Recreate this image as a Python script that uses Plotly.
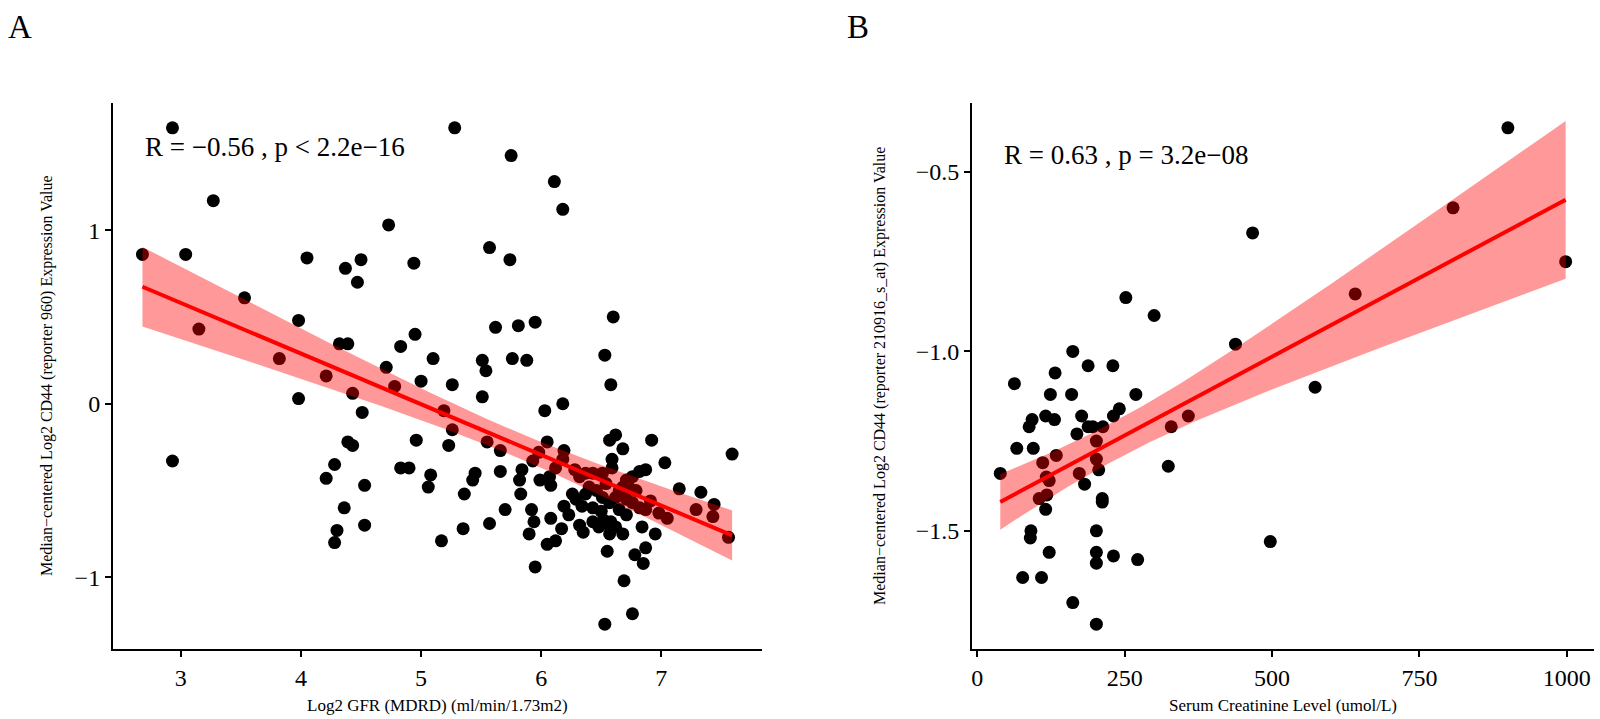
import numpy as np
import plotly.graph_objects as go

# Panel A: log2 GFR vs CD44 (reporter 960)
gfr_log2 = [2.93, 3.27, 2.68, 3.04, 4.73, 4.05, 4.37, 4.50, 4.47, 4.94, 3.53, 3.15, 3.98, 4.32, 4.39,
            4.95, 4.83, 3.82, 4.21, 4.71, 5.00, 4.78, 4.43, 3.98, 5.10,
            2.93, 4.51, 4.39, 4.43, 4.96, 4.28, 4.21, 4.83, 4.90, 4.53, 5.08, 5.06, 4.36, 4.30, 4.28, 4.53,
            5.28, 5.75, 6.11, 6.18, 5.57, 5.74, 6.60, 5.62, 5.81, 5.95, 5.51, 5.54, 5.76, 5.88, 6.53, 5.26,
            6.58, 5.51, 6.18,
            6.03, 5.19, 5.26, 5.23, 5.55, 5.66, 6.05, 5.98, 6.62, 6.57, 6.68, 6.92, 6.19, 7.59,
            5.45, 5.43, 5.66, 5.84, 5.82, 5.93, 5.99, 6.08, 6.07, 6.18, 6.12, 6.28, 6.32, 6.37, 6.43, 6.51,
            6.59, 6.59, 6.76, 6.82, 6.87, 7.03, 7.15, 7.33, 7.44, 7.29, 7.43, 7.05, 6.98, 6.91, 6.87, 5.36,
            5.83, 5.70, 5.57, 5.35, 5.17, 5.92, 5.94, 5.90, 6.08, 6.19, 6.23, 6.17, 6.05, 6.12, 5.95, 6.32,
            6.35, 6.48, 6.54, 6.57, 6.62, 6.68, 6.55, 6.84, 6.95, 6.87, 6.78, 6.85, 6.69, 6.76, 6.53,
            6.65, 6.73, 6.79, 6.71, 6.76, 6.82, 6.65, 6.71, 6.57, 6.62, 6.51, 6.46, 6.37, 6.29, 6.34, 6.43,
            6.50, 6.26, 6.40, 6.54, 6.68, 6.71, 6.52, 6.58, 6.43, 7.56]
cd44_a = [1.59, 1.17, 0.86, 0.86, 1.03, 0.84, 0.78, 0.83, 0.70, 0.81, 0.61, 0.43, 0.48, 0.345, 0.345,
          0.40, 0.33, 0.26, 0.16, 0.21, 0.13, 0.10, 0.06, 0.03, 0.26,
          -0.33, -0.05, -0.22, -0.24, -0.21, -0.35, -0.43, -0.37, -0.37, -0.47, -0.41, -0.48, -0.60, -0.73, -0.80, -0.70,
          1.59, 1.43, 1.28, 1.12, 0.90, 0.83, 0.50, 0.44, 0.45, 0.47, 0.25, 0.19, 0.26, 0.25, 0.28, 0.11,
          0.11, 0.04, 0.00,
          -0.04, -0.04, -0.15, -0.24, -0.22, -0.27, -0.22, -0.28, -0.18, -0.21, -0.26, -0.21, -0.27, -0.29,
          -0.40, -0.44, -0.39, -0.38, -0.44, -0.33, -0.44, -0.47, -0.42, -0.32, -0.37, -0.38, -0.42, -0.40, -0.40, -0.40,
          -0.32, -0.37, -0.42, -0.39, -0.38, -0.34, -0.49, -0.51, -0.58, -0.61, -0.65, -0.66, -0.63, -0.56, -0.61, -0.52,
          -0.52, -0.61, -0.69, -0.72, -0.79, -0.61, -0.68, -0.75, -0.66, -0.59, -0.64, -0.72, -0.81, -0.79, -0.94, -0.70,
          -0.74, -0.71, -0.69, -0.75, -0.71, -0.75, -0.85, -0.71, -0.75, -0.83, -0.87, -0.92, -1.02, -1.21, -1.27,
          -0.50, -0.48, -0.50, -0.55, -0.57, -0.60, -0.61, -0.64, -0.57, -0.54, -0.54, -0.50, -0.52, -0.55, -0.59, -0.60,
          -0.62, -0.52, -0.48, -0.46, -0.48, -0.44, -0.67, -0.68, -0.68, -0.77]

# Panel B: serum creatinine vs CD44 (reporter 210916_s_at)
creatinine = [300, 162, 438, 188, 230, 132, 63, 124, 160, 269, 241, 231, 177, 93, 88, 116, 131, 188, 196, 213,
              358, 329, 169, 67, 95, 202, 134, 111, 202, 206, 39, 117, 122, 173, 324, 182, 105, 118, 116, 212,
              212, 91, 90, 202, 122, 202, 202, 231, 272, 77, 109, 162, 202, 900, 807, 467, 998, 641, 573, 497, 252]
cd44_b = [-0.90, -1.00, -0.98, -1.04, -1.04, -1.06, -1.09, -1.12, -1.12, -1.12, -1.16, -1.18, -1.18, -1.19, -1.21,
          -1.18, -1.19, -1.21, -1.21, -1.21, -1.18, -1.21, -1.23, -1.27, -1.27, -1.25, -1.29, -1.31, -1.30, -1.33,
          -1.34, -1.35, -1.36, -1.34, -1.32, -1.37, -1.41, -1.40, -1.44, -1.41, -1.42, -1.50, -1.52, -1.50, -1.56,
          -1.56, -1.59, -1.57, -1.58, -1.63, -1.63, -1.70, -1.76, -0.377, -0.60, -0.67, -0.75, -0.84, -1.10, -1.53, -0.85]

label_a = "R = \u22120.56 , p < 2.2e\u221216"
label_b = "R = 0.63 , p = 3.2e\u221208"
xtitle_a = "Log2 GFR (MDRD) (ml/min/1.73m2)"
xtitle_b = "Serum Creatinine Level (umol/L)"
ytitle_a = "Median\u2212centered Log2 CD44 (reporter 960) Expression Value"
ytitle_b = "Median\u2212centered Log2 CD44 (reporter 210916_s_at) Expression Value"

FONT = "Liberation Serif"


def lm_band(x, y, n_grid=80):
    # linear fit with 95% confidence band, like geom_smooth(method="lm")
    x = np.asarray(x, float)
    y = np.asarray(y, float)
    n = len(x)
    b1, b0 = np.polyfit(x, y, 1)
    resid = y - (b0 + b1 * x)
    s = np.sqrt(np.sum(resid ** 2) / (n - 2))
    sxx = np.sum((x - x.mean()) ** 2)
    t = 1.96 + 2.4 / (n - 2)
    xg = np.linspace(x.min(), x.max(), n_grid)
    fit = b0 + b1 * xg
    se = s * np.sqrt(1 / n + (xg - x.mean()) ** 2 / sxx)
    return xg, fit, fit - t * se, fit + t * se


def padded(v):
    lo, hi = min(v), max(v)
    pad = (hi - lo) * 0.05
    return [lo - pad, hi + pad]


fig = go.Figure()

panels = [
    (gfr_log2, cd44_a, "x", "y"),
    (creatinine, cd44_b, "x2", "y2"),
]
for xs, ys, xa, ya in panels:
    fig.add_trace(go.Scatter(x=xs, y=ys, mode="markers", xaxis=xa, yaxis=ya,
                             marker=dict(color="black", size=13), showlegend=False, hoverinfo="x+y"))
    xg, fit, lo, hi = lm_band(xs, ys)
    fig.add_trace(go.Scatter(x=list(xg) + list(xg[::-1]), y=list(hi) + list(lo[::-1]),
                             fill="toself", fillcolor="rgba(255,0,0,0.4)", line=dict(width=0),
                             mode="lines", xaxis=xa, yaxis=ya, showlegend=False, hoverinfo="skip"))
    fig.add_trace(go.Scatter(x=xg, y=fit, mode="lines", line=dict(color="red", width=4),
                             xaxis=xa, yaxis=ya, showlegend=False, hoverinfo="skip"))

axis_style = dict(showline=True, linecolor="black", linewidth=2, ticks="outside", ticklen=6,
                  tickwidth=1.5, tickcolor="black", showgrid=False, zeroline=False,
                  tickfont=dict(family=FONT, size=24, color="black"))

ydom = [0.0974, 0.8568]
fig.update_layout(
    width=1600, height=719,
    margin=dict(l=0, r=0, t=0, b=0),
    paper_bgcolor="white", plot_bgcolor="white",
    font=dict(family=FONT, color="black"),
    xaxis=dict(domain=[0.0706, 0.476], range=padded(gfr_log2), tickvals=[3, 4, 5, 6, 7], anchor="y", **axis_style),
    yaxis=dict(domain=ydom, range=padded(cd44_a), tickvals=[-1, 0, 1], anchor="x", **axis_style),
    xaxis2=dict(domain=[0.6075, 0.9962], range=padded(creatinine), tickvals=[0, 250, 500, 750, 1000],
                anchor="y2", **axis_style),
    yaxis2=dict(domain=ydom, range=padded(cd44_b), tickvals=[-1.5, -1.0, -0.5], tickformat=".1f",
                anchor="x2", **axis_style),
)

ann = [
    dict(text="A", x=6 / 1600, y=1 - 27 / 719, xanchor="left", yanchor="middle", font=dict(size=33)),
    dict(text="B", x=845 / 1600, y=1 - 27 / 719, xanchor="left", yanchor="middle", font=dict(size=33)),
    dict(text=label_a, xref="x domain", yref="y domain", x=0.046, y=0.92, xanchor="left",
         yanchor="middle", font=dict(size=27)),
    dict(text=label_b, xref="x2 domain", yref="y2 domain", x=0.048, y=0.905, xanchor="left",
         yanchor="middle", font=dict(size=27)),
    dict(text=xtitle_a, xref="x domain", x=0.5, y=1 - 705 / 719, xanchor="center", yanchor="middle",
         font=dict(size=17)),
    dict(text=xtitle_b, xref="x2 domain", x=0.5, y=1 - 705 / 719, xanchor="center", yanchor="middle",
         font=dict(size=17)),
    dict(text=ytitle_a, yref="y domain", x=47 / 1600, y=0.5, textangle=-90, xanchor="center",
         yanchor="middle", font=dict(size=16)),
    dict(text=ytitle_b, yref="y2 domain", x=880 / 1600, y=0.5, textangle=-90, xanchor="center",
         yanchor="middle", font=dict(size=16)),
]
for a in ann:
    a.setdefault("xref", "paper")
    a.setdefault("yref", "paper")
    a["showarrow"] = False
    a["font"] = dict(family=FONT, color="black", **a["font"])
    fig.add_annotation(**a)

# drop the page's default body margin so the figure sits at the window origin
fig.write_html("out.html", config={"displayModeBar": False},
               post_script="document.body.style.margin='0';document.body.style.overflow='hidden';")
